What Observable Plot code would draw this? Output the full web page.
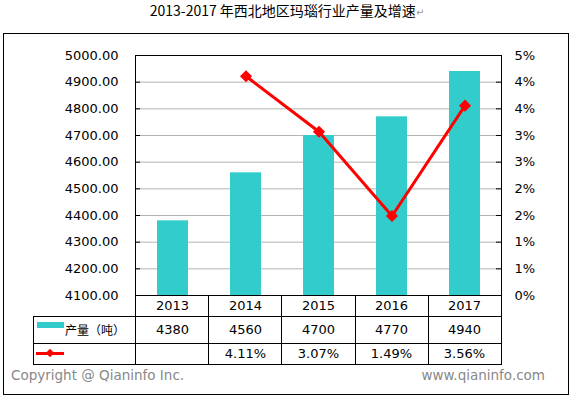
<!DOCTYPE html>
<html><head><meta charset="utf-8">
<script src="https://cdn.jsdelivr.net/npm/d3@7"></script>
<script src="https://cdn.jsdelivr.net/npm/@observablehq/plot@0.6"></script>
<style>
body{margin:0;background:#fff;}
#wrap{position:relative;width:574px;height:399px;overflow:hidden;font-family:"DejaVu Sans",Verdana,sans-serif;color:#000;}
#title{position:absolute;top:1px;left:0;width:574px;text-align:center;font-size:14px;font-family:"Noto Sans CJK SC","DejaVu Sans",sans-serif;line-height:18px;}
#title .ret{color:#999;font-size:10px;}
#frame{position:absolute;left:3px;top:33px;width:566px;height:362px;border:1px solid #000;box-sizing:border-box;}
#chart{position:absolute;left:0;top:0;}
.abs{position:absolute;}
.cell{position:absolute;text-align:center;font-size:13px;white-space:nowrap;}
.foot{position:absolute;top:367px;font-size:13.5px;color:#888;white-space:nowrap;}
</style>
</head><body>
<div id="wrap">
  <div id="frame"></div>
  <div id="title">2013-2017 年西北地区玛瑙行业产量及增速<span class="ret">↵</span></div>
</div>
<script>
// ---- data ----
const years = ["2013", "2014", "2015", "2016", "2017"];
const output = [4380, 4560, 4700, 4770, 4940];          // 产量（吨）
const growth = [null, 4.11, 3.07, 1.49, 3.56];          // 增速 %
const growthLabels = ["", "4.11%", "3.07%", "1.49%", "3.56%"];
const leftTicks = [4100, 4200, 4300, 4400, 4500, 4600, 4700, 4800, 4900, 5000];
const seriesName = "产量（吨）";

// axis settings
const yMin = 4100, yMax = 5000, rightMax = 4.5;
const W = 574, H = 399;
const mL = 135, mR = 73, mT = 55, mB = 104;
const plotW = W - mL - mR;

const barData = years.map((y, i) => ({year: y, value: output[i]}));
const lineData = years.map((y, i) => ({year: y, g: growth[i]})).filter(d => d.g != null);
const toLeft = g => yMin + g * (yMax - yMin) / rightMax;

const plot = Plot.plot({
  width: W, height: H,
  marginLeft: mL, marginRight: mR, marginTop: mT, marginBottom: mB,
  style: {fontFamily: "DejaVu Sans, Verdana, sans-serif", fontSize: "13px", color: "#000", background: "transparent", overflow: "visible"},
  x: {type: "band", domain: years, paddingInner: 0.58, paddingOuter: 0.29, axis: null},
  y: {domain: [yMin, yMax], axis: null},
  marks: [
    Plot.ruleY(leftTicks.slice(1, -1), {stroke: "#b4b4b4", strokeWidth: 1}),
    Plot.barY(barData, {x: "year", y1: yMin, y2: "value", fill: "#33CCCC"}),
    Plot.ruleY(leftTicks, {stroke: "#000", insetRight: plotW - 5}),
    Plot.ruleY(leftTicks, {stroke: "#000", insetLeft: plotW - 5}),
    Plot.frame({stroke: "#000"}),
    Plot.axisY(leftTicks, {anchor: "left", tickSize: 0, tickPadding: 17, label: null,
      tickFormat: d => d.toFixed(2), fontSize: 13}),
    Plot.axisY(leftTicks, {anchor: "right", tickSize: 0, tickPadding: 13, label: null,
      tickFormat: v => Math.round((v - yMin) * rightMax / (yMax - yMin)) + "%", fontSize: 13}),
    Plot.line(lineData, {x: "year", y: d => toLeft(d.g), stroke: "#FF0000", strokeWidth: 3}),
    Plot.dot(lineData, {x: "year", y: d => toLeft(d.g), symbol: "diamond2", r: 4.5, fill: "#FF0000", stroke: "#FF0000"})
  ]
});
plot.id = "chart";
const wrap = document.getElementById("wrap");
wrap.insertBefore(plot, document.getElementById("title"));

// ---- data table under the plot ----
const xs = plot.scale("x");
const [x0, x1] = xs.range;
const colW = (x1 - x0) / years.length;
const tableLeft = 33;
const rowY = [295, 316, 343, 364];
function el(cls, css, html) {
  const d = document.createElement("div");
  d.className = cls;
  Object.assign(d.style, css);
  if (html != null) d.innerHTML = html;
  wrap.appendChild(d);
  return d;
}
// horizontal lines
for (let r = 1; r < rowY.length; r++) {
  el("abs", {left: tableLeft + "px", top: rowY[r] + "px", width: (x1 - tableLeft + 1) + "px", height: "1px", background: "#000"});
}
// vertical lines
el("abs", {left: tableLeft + "px", top: rowY[1] + "px", width: "1px", height: (rowY[3] - rowY[1] + 1) + "px", background: "#000"});
for (let i = 0; i <= years.length; i++) {
  const x = x0 + i * colW;
  el("abs", {left: Math.round(x) + "px", top: rowY[0] + "px", width: "1px", height: (rowY[3] - rowY[0] + 1) + "px", background: "#000"});
}
// cells
years.forEach((y, i) => {
  const cx = xs.apply(y) + xs.bandwidth / 2;
  const left = cx - colW / 2;
  const rows = [y, String(output[i]), growthLabels[i]];
  rows.forEach((t, r) => {
    el("cell", {left: left + "px", width: colW + "px", top: rowY[r] + "px",
      height: (rowY[r + 1] - rowY[r]) + "px", lineHeight: (rowY[r + 1] - rowY[r] + 1) + "px"}, t);
  });
});
// legend keys in header column
el("abs", {left: "37px", top: "322px", width: "27px", height: "6px", background: "#33CCCC"});
el("cell", {left: "65px", top: rowY[1] + "px", height: (rowY[2] - rowY[1]) + "px", lineHeight: (rowY[2] - rowY[1] + 1) + "px",
  fontFamily: "'Noto Sans CJK SC', sans-serif", fontSize: "12px"}, seriesName);
el("abs", {left: "36px", top: "352px", width: "28px", height: "3px", background: "#FF0000"});
el("abs", {left: "47px", top: "350px", width: "6px", height: "6px", background: "#FF0000", transform: "rotate(45deg)"});

// footer
el("foot", {left: "11px"}, "Copyright @ Qianinfo Inc.");
el("foot", {right: "29px"}, "www.qianinfo.com");
</script>
</body></html>
